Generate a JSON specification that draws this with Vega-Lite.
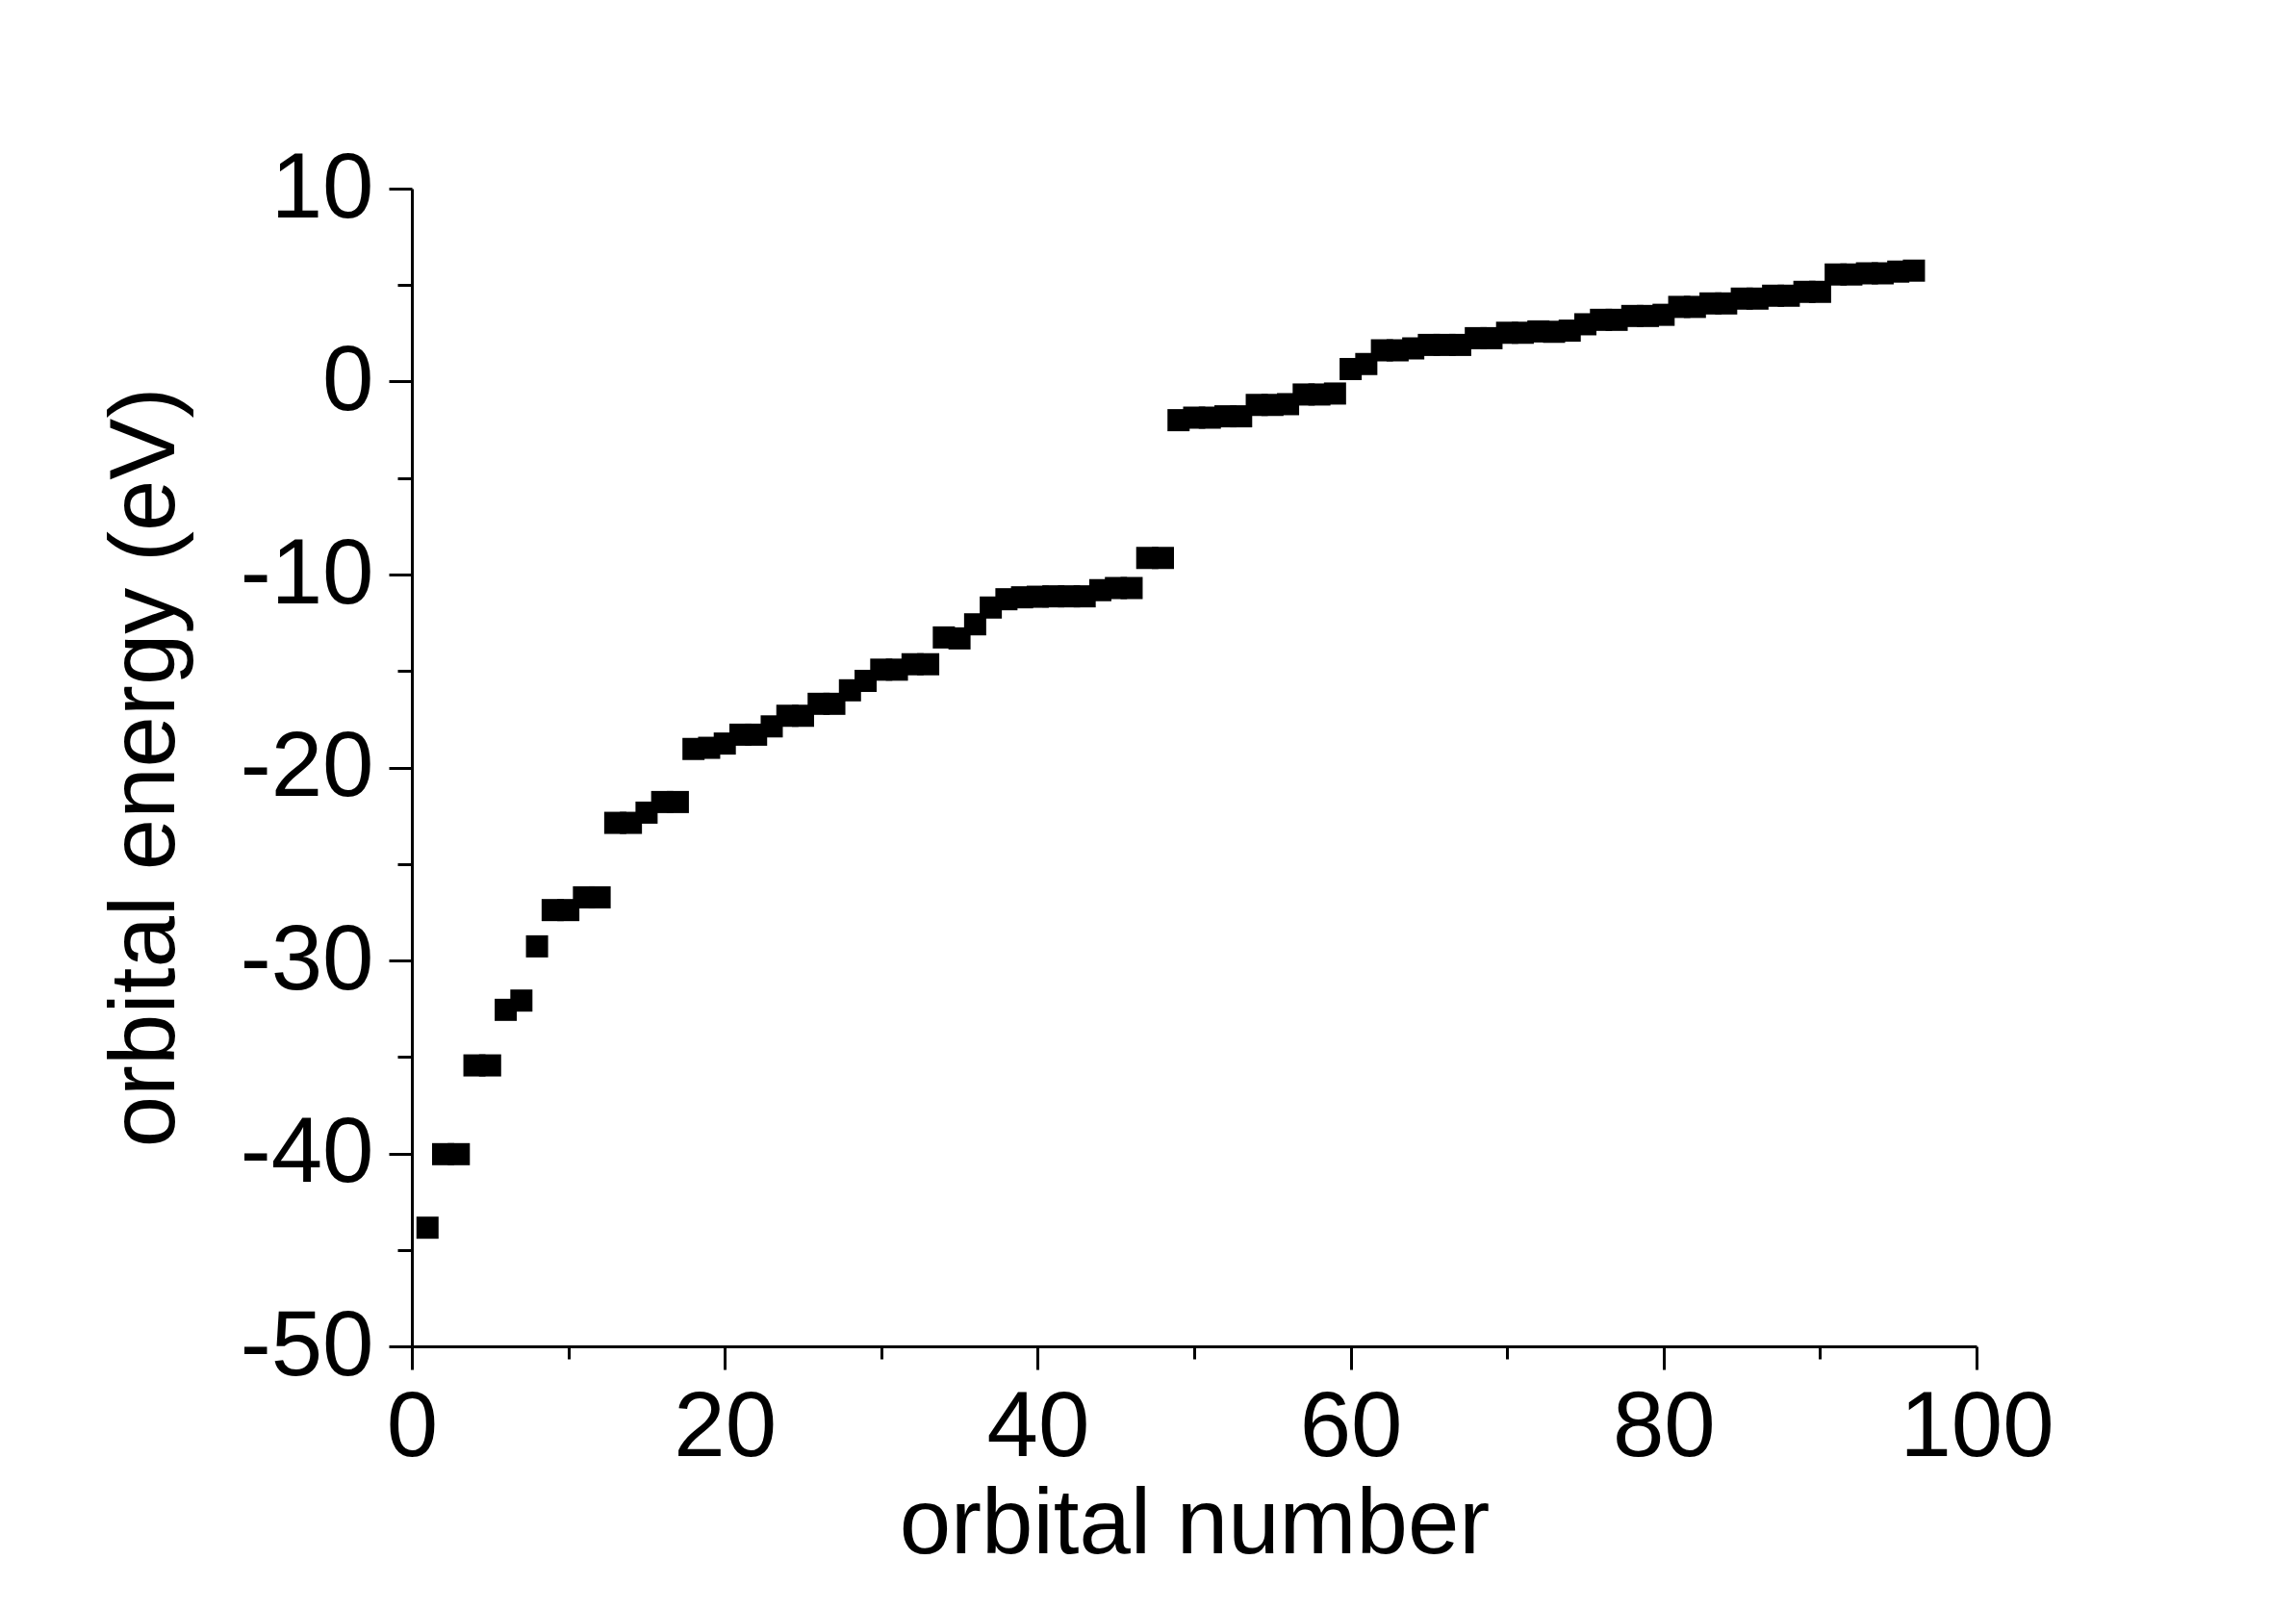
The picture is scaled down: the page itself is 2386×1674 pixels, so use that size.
{
  "$schema": "https://vega.github.io/schema/vega-lite/v6.json",
  "autosize": "none",
  "width": 1626,
  "height": 1203,
  "padding": {"left": 428, "top": 196, "right": 332, "bottom": 275},
  "background": "white",
  "config": {"view": {"stroke": null}, "font": "Liberation Sans"},
  "data": {"values": [
    {"n":1,"e":-43.85},{"n":2,"e":-40.04},{"n":3,"e":-40.04},{"n":4,"e":-35.44},{"n":5,"e":-35.44},
    {"n":6,"e":-32.56},{"n":7,"e":-32.08},{"n":8,"e":-29.27},{"n":9,"e":-27.39},{"n":10,"e":-27.39},
    {"n":11,"e":-26.73},{"n":12,"e":-26.73},{"n":13,"e":-22.87},{"n":14,"e":-22.87},{"n":15,"e":-22.34},
    {"n":16,"e":-21.79},{"n":17,"e":-21.79},{"n":18,"e":-19.04},{"n":19,"e":-18.98},{"n":20,"e":-18.76},
    {"n":21,"e":-18.30},{"n":22,"e":-18.30},{"n":23,"e":-17.87},{"n":24,"e":-17.32},{"n":25,"e":-17.32},
    {"n":26,"e":-16.70},{"n":27,"e":-16.70},{"n":28,"e":-16.00},{"n":29,"e":-15.51},{"n":30,"e":-14.93},
    {"n":31,"e":-14.93},{"n":32,"e":-14.65},{"n":33,"e":-14.65},{"n":34,"e":-13.26},{"n":35,"e":-13.31},
    {"n":36,"e":-12.58},{"n":37,"e":-11.71},{"n":38,"e":-11.28},{"n":39,"e":-11.18},{"n":40,"e":-11.15},
    {"n":41,"e":-11.13},{"n":42,"e":-11.13},{"n":43,"e":-11.13},{"n":44,"e":-10.81},{"n":45,"e":-10.70},
    {"n":46,"e":-10.70},{"n":47,"e":-9.14},{"n":48,"e":-9.14},{"n":49,"e":-2.00},{"n":50,"e":-1.87},
    {"n":51,"e":-1.87},{"n":52,"e":-1.80},{"n":53,"e":-1.80},{"n":54,"e":-1.21},{"n":55,"e":-1.21},
    {"n":56,"e":-1.17},{"n":57,"e":-0.67},{"n":58,"e":-0.67},{"n":59,"e":-0.62},{"n":60,"e":0.65},
    {"n":61,"e":0.91},{"n":62,"e":1.62},{"n":63,"e":1.62},{"n":64,"e":1.72},{"n":65,"e":1.90},
    {"n":66,"e":1.90},{"n":67,"e":1.90},{"n":68,"e":2.25},{"n":69,"e":2.25},{"n":70,"e":2.53},
    {"n":71,"e":2.53},{"n":72,"e":2.60},{"n":73,"e":2.58},{"n":74,"e":2.64},{"n":75,"e":2.97},
    {"n":76,"e":3.20},{"n":77,"e":3.20},{"n":78,"e":3.40},{"n":79,"e":3.40},{"n":80,"e":3.46},
    {"n":81,"e":3.87},{"n":82,"e":3.87},{"n":83,"e":4.05},{"n":84,"e":4.05},{"n":85,"e":4.30},
    {"n":86,"e":4.30},{"n":87,"e":4.45},{"n":88,"e":4.45},{"n":89,"e":4.65},{"n":90,"e":4.65},
    {"n":91,"e":5.55},{"n":92,"e":5.55},{"n":93,"e":5.61},{"n":94,"e":5.61},{"n":95,"e":5.70},
    {"n":96,"e":5.75}
  ]},
  "mark": {"type": "point", "shape": "square", "filled": true, "size": 529, "color": "black", "opacity": 1, "strokeWidth": 0},
  "encoding": {
    "x": {
      "field": "n", "type": "quantitative",
      "scale": {"domain": [0, 100], "nice": false, "zero": false},
      "axis": {
        "title": "orbital number",
        "values": [0,10,20,30,40,50,60,70,80,90,100],
        "labelExpr": "datum.value % 20 === 0 ? '' + datum.value : ''",
        "grid": false,
        "domainColor": "black", "domainWidth": 3,
        "tickColor": "black", "tickWidth": 3,
        "tickSize": {"condition": {"test": "datum.value % 20 === 0", "value": 24}, "value": 13},
        "labelFont": "Liberation Sans", "labelFontSize": 96, "labelColor": "black",
        "labelBaseline": "alphabetic", "labelPadding": 89, "labelFlush": false, "labelOverlap": false,
        "titleFont": "Liberation Sans", "titleFontSize": 96, "titleFontWeight": "normal", "titleColor": "black",
        "titleBaseline": "alphabetic", "titleX": 813, "titleY": 214, "titleAnchor": null, "titleAlign": "center"
      }
    },
    "y": {
      "field": "e", "type": "quantitative",
      "scale": {"domain": [-50, 10], "nice": false, "zero": false},
      "axis": {
        "title": "orbital energy (eV)",
        "values": [-50,-45,-40,-35,-30,-25,-20,-15,-10,-5,0,5,10],
        "labelExpr": "datum.value % 10 === 0 ? '' + datum.value : ''",
        "grid": false,
        "domainColor": "black", "domainWidth": 3,
        "tickColor": "black", "tickWidth": 3,
        "tickSize": {"condition": {"test": "datum.value % 10 === 0", "value": 24}, "value": 15},
        "labelFont": "Liberation Sans", "labelFontSize": 96, "labelColor": "black",
        "labelPadding": 16, "labelFlush": false, "labelOverlap": false, "labelBaseline": "middle",
        "titleFont": "Liberation Sans", "titleFontSize": 96, "titleFontWeight": "normal", "titleColor": "black",
        "titleBaseline": "alphabetic", "titleAngle": -90, "titleX": -248, "titleY": 601, "titleAlign": "center"
      }
    }
  }
}
